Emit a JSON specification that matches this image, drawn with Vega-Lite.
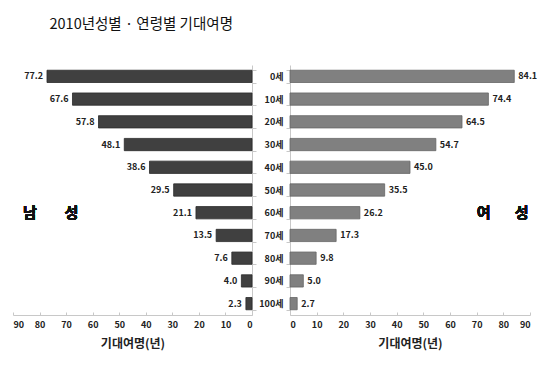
{
  "$schema": "https://vega.github.io/schema/vega-lite/v6.json",
  "padding": {"left": 12, "top": 16, "right": 3, "bottom": 5},
  "background": "white",
  "title": {"text": "2010년성별 · 연령별 기대여명", "anchor": "start", "fontSize": 14.5, "fontWeight": "normal", "font": "Noto Sans CJK KR", "color": "#111", "dx": 37, "offset": 29},
  "config": {
    "view": {"stroke": null},
    "font": "Noto Sans CJK KR",
    "axis": {"grid": false, "labelFont": "Noto Sans CJK KR", "titleFont": "Noto Sans CJK KR", "labelFontWeight": "bold", "labelFontSize": 9, "labelColor": "#222", "domainColor": "#c8c8c8", "tickColor": "#c8c8c8", "tickSize": 4, "titleFontSize": 12, "titleFontWeight": "bold", "titleColor": "#222"}
  },
  "datasets": {
    "life": [
      {"age": "0세", "sex": "남성", "value": 77.2},
      {"age": "10세", "sex": "남성", "value": 67.6},
      {"age": "20세", "sex": "남성", "value": 57.8},
      {"age": "30세", "sex": "남성", "value": 48.1},
      {"age": "40세", "sex": "남성", "value": 38.6},
      {"age": "50세", "sex": "남성", "value": 29.5},
      {"age": "60세", "sex": "남성", "value": 21.1},
      {"age": "70세", "sex": "남성", "value": 13.5},
      {"age": "80세", "sex": "남성", "value": 7.6},
      {"age": "90세", "sex": "남성", "value": 4.0},
      {"age": "100세", "sex": "남성", "value": 2.3},
      {"age": "0세", "sex": "여성", "value": 84.1},
      {"age": "10세", "sex": "여성", "value": 74.4},
      {"age": "20세", "sex": "여성", "value": 64.5},
      {"age": "30세", "sex": "여성", "value": 54.7},
      {"age": "40세", "sex": "여성", "value": 45.0},
      {"age": "50세", "sex": "여성", "value": 35.5},
      {"age": "60세", "sex": "여성", "value": 26.2},
      {"age": "70세", "sex": "여성", "value": 17.3},
      {"age": "80세", "sex": "여성", "value": 9.8},
      {"age": "90세", "sex": "여성", "value": 5.0},
      {"age": "100세", "sex": "여성", "value": 2.7}
    ]
  },
  "data": {"name": "life"},
  "spacing": 38,
  "bounds": "flush",
  "hconcat": [
    {
      "width": 239,
      "height": 250,
      "transform": [{"filter": "datum.sex === '남성'"}],
      "encoding": {
        "y": {"field": "age", "type": "nominal", "sort": ["0세","10세","20세","30세","40세","50세","60세","70세","80세","90세","100세"], "scale": {"paddingInner": 0.46, "paddingOuter": 0.23}, "axis": {"orient": "right", "labels": false, "title": null, "tickBand": "extent"}},
        "x": {"field": "value", "type": "quantitative", "scale": {"domain": [0, 90], "reverse": true, "nice": false}, "axis": {"values": [0,10,20,30,40,50,60,70,80,90], "title": "기대여명(년)", "tickSize": -3, "labelPadding": 8, "titlePadding": 9}}
      },
      "layer": [
        {"mark": {"type": "bar", "color": "#404040", "stroke": "#2a2a2a", "strokeWidth": 0.8}},
        {"mark": {"type": "text", "align": "right", "dx": -4, "fontWeight": "bold", "fontSize": 9, "color": "#222"}, "encoding": {"text": {"field": "value", "type": "quantitative", "format": ".1f"}}},
        {"mark": {"type": "text", "fontWeight": "bold", "fontSize": 15, "color": "#111"}, "encoding": {"x": {"datum": 83.6}, "y": {"datum": "60세"}, "text": {"value": "남"}, "yOffset": {"value": 6}}},
        {"mark": {"type": "text", "fontWeight": "bold", "fontSize": 15, "color": "#111"}, "encoding": {"x": {"datum": 68}, "y": {"datum": "60세"}, "text": {"value": "성"}, "yOffset": {"value": 6}}}
      ]
    },
    {
      "width": 240,
      "height": 250,
      "transform": [{"filter": "datum.sex === '여성'"}],
      "encoding": {
        "y": {"field": "age", "type": "nominal", "sort": ["0세","10세","20세","30세","40세","50세","60세","70세","80세","90세","100세"], "scale": {"paddingInner": 0.46, "paddingOuter": 0.23}, "axis": {"orient": "left", "title": null, "tickBand": "extent", "labelPadding": 3}},
        "x": {"field": "value", "type": "quantitative", "scale": {"domain": [0, 90], "nice": false}, "axis": {"values": [0,10,20,30,40,50,60,70,80,90], "title": "기대여명(년)", "tickSize": -3, "labelPadding": 8, "titlePadding": 9}}
      },
      "layer": [
        {"mark": {"type": "bar", "color": "#808080", "stroke": "#666666", "strokeWidth": 0.8}},
        {"mark": {"type": "text", "align": "left", "dx": 4, "fontWeight": "bold", "fontSize": 9, "color": "#222"}, "encoding": {"text": {"field": "value", "type": "quantitative", "format": ".1f"}}},
        {"mark": {"type": "text", "fontWeight": "bold", "fontSize": 15, "color": "#111"}, "encoding": {"x": {"datum": 72.6}, "y": {"datum": "60세"}, "text": {"value": "여"}, "yOffset": {"value": 6}}},
        {"mark": {"type": "text", "fontWeight": "bold", "fontSize": 15, "color": "#111"}, "encoding": {"x": {"datum": 86.9}, "y": {"datum": "60세"}, "text": {"value": "성"}, "yOffset": {"value": 6}}}
      ]
    }
  ]
}
